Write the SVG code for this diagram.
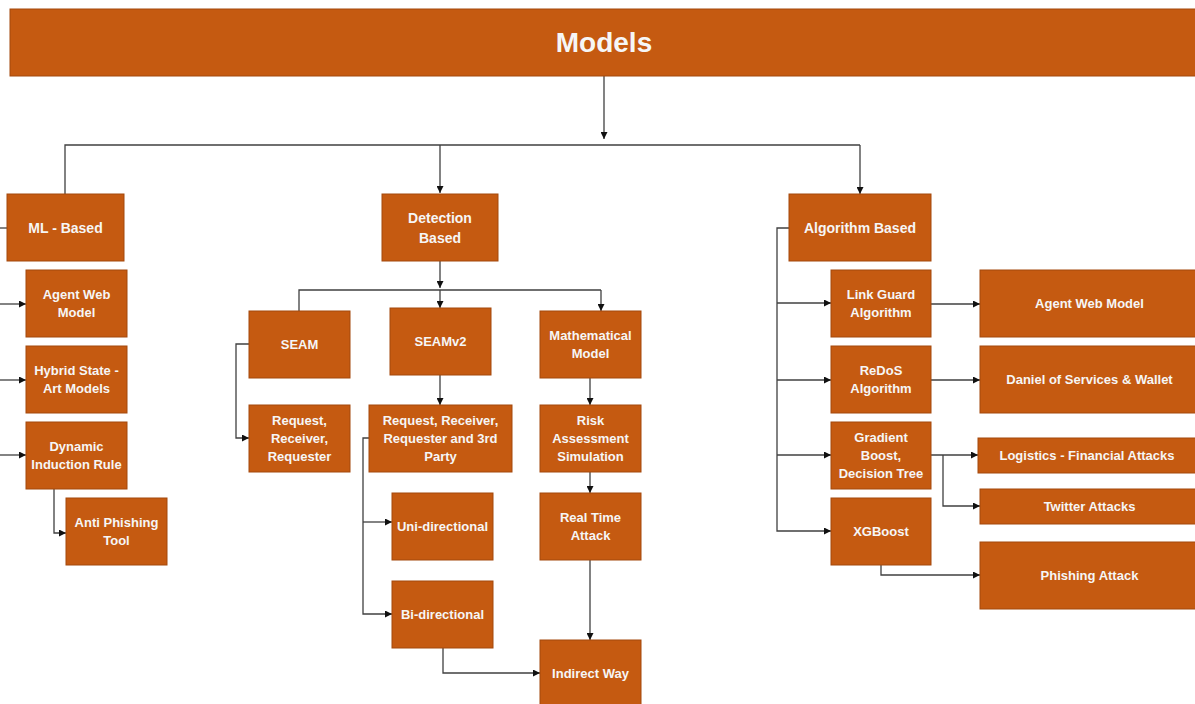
<svg xmlns="http://www.w3.org/2000/svg" width="1195" height="704" viewBox="0 0 1195 704">
<style>
.b{fill:#C55A11;stroke:#A3480C;stroke-width:1}
.t{fill:#F6F6F6;font-family:"Liberation Sans",Arial,sans-serif;font-weight:bold;font-size:13px;text-anchor:middle}
.h{font-size:14px}
.c{fill:none;stroke:#404040;stroke-width:1.3}
</style>
<defs>
<marker id="a" viewBox="0 0 10 10" refX="10" refY="5" markerWidth="7" markerHeight="7" markerUnits="userSpaceOnUse" orient="auto"><path d="M0,0 L10,5 L0,10 z" fill="#111"/></marker>
</defs>
<rect x="0" y="0" width="1195" height="704" fill="#fff"/>
<g id="connectors">
<path class="c" d="M604,76 V139" marker-end="url(#a)"/>
<path class="c" d="M65,194 V145 H860"/>
<path class="c" d="M440,145 V193" marker-end="url(#a)"/>
<path class="c" d="M860,145 V194" marker-end="url(#a)"/>
<path class="c" d="M0,228 H7"/>
<path class="c" d="M0,304 H26" marker-end="url(#a)"/>
<path class="c" d="M0,380 H26" marker-end="url(#a)"/>
<path class="c" d="M0,455 H26" marker-end="url(#a)"/>
<path class="c" d="M54,489 V533 H66" marker-end="url(#a)"/>
<path class="c" d="M440,261 V288" marker-end="url(#a)"/>
<path class="c" d="M299,311 V290 H601"/>
<path class="c" d="M440,290 V308" marker-end="url(#a)"/>
<path class="c" d="M601,290 V311" marker-end="url(#a)"/>
<path class="c" d="M249,344 H236 V438 H249" marker-end="url(#a)"/>
<path class="c" d="M440,375 V405" marker-end="url(#a)"/>
<path class="c" d="M369,438 H363 V614 H392" marker-end="url(#a)"/>
<path class="c" d="M363,522 H392" marker-end="url(#a)"/>
<path class="c" d="M443,647 V673 H540" marker-end="url(#a)"/>
<path class="c" d="M590,378 V405" marker-end="url(#a)"/>
<path class="c" d="M590,472 V493" marker-end="url(#a)"/>
<path class="c" d="M590,560 V640" marker-end="url(#a)"/>
<path class="c" d="M789,228 H777 V531 H831" marker-end="url(#a)"/>
<path class="c" d="M777,303 H831" marker-end="url(#a)"/>
<path class="c" d="M777,380 H831" marker-end="url(#a)"/>
<path class="c" d="M777,455 H831" marker-end="url(#a)"/>
<path class="c" d="M931,304 H980" marker-end="url(#a)"/>
<path class="c" d="M931,380 H980" marker-end="url(#a)"/>
<path class="c" d="M931,455 H978" marker-end="url(#a)"/>
<path class="c" d="M943,455 V506 H980" marker-end="url(#a)"/>
<path class="c" d="M881,565 V575 H980" marker-end="url(#a)"/>
</g>
<g id="models"><rect class="b" x="10" y="9" width="1195" height="67" style="stroke:#A3480C"/><text class="t" x="604" y="52" style="font-size:28px">Models</text></g>
<g id="ml"><rect class="b" x="7" y="194" width="117" height="67"/><text class="t h" x="65.5" y="232.5">ML - Based</text></g>
<g id="detection"><rect class="b" x="382" y="194" width="116" height="67"/><text class="t h" x="440" y="222.5">Detection</text><text class="t h" x="440" y="242.5">Based</text></g>
<g id="algorithm"><rect class="b" x="789" y="194" width="142" height="67"/><text class="t h" x="860" y="232.5">Algorithm Based</text></g>
<g id="agentweb1"><rect class="b" x="26" y="270" width="101" height="67"/><text class="t" x="76.5" y="299">Agent Web</text><text class="t" x="76.5" y="317">Model</text></g>
<g id="hybrid"><rect class="b" x="26" y="346" width="101" height="67"/><text class="t" x="76.5" y="375">Hybrid State -</text><text class="t" x="76.5" y="393">Art Models</text></g>
<g id="dynamic"><rect class="b" x="26" y="422" width="101" height="67"/><text class="t" x="76.5" y="451">Dynamic</text><text class="t" x="76.5" y="469">Induction Rule</text></g>
<g id="antiphishing"><rect class="b" x="66" y="498" width="101" height="67"/><text class="t" x="116.5" y="527">Anti Phishing</text><text class="t" x="116.5" y="545">Tool</text></g>
<g id="seam"><rect class="b" x="249" y="311" width="101" height="67"/><text class="t" x="299.5" y="349">SEAM</text></g>
<g id="seamv2"><rect class="b" x="390" y="308" width="101" height="67"/><text class="t" x="440.5" y="346">SEAMv2</text></g>
<g id="math"><rect class="b" x="540" y="311" width="101" height="67"/><text class="t" x="590.5" y="340">Mathematical</text><text class="t" x="590.5" y="358">Model</text></g>
<g id="rrr"><rect class="b" x="249" y="405" width="101" height="67"/><text class="t" x="299.5" y="425">Request,</text><text class="t" x="299.5" y="443">Receiver,</text><text class="t" x="299.5" y="461">Requester</text></g>
<g id="rrr3"><rect class="b" x="369" y="405" width="143" height="67"/><text class="t" x="440.5" y="425">Request, Receiver,</text><text class="t" x="440.5" y="443">Requester and 3rd</text><text class="t" x="440.5" y="461">Party</text></g>
<g id="risk"><rect class="b" x="540" y="405" width="101" height="67"/><text class="t" x="590.5" y="425">Risk</text><text class="t" x="590.5" y="443">Assessment</text><text class="t" x="590.5" y="461">Simulation</text></g>
<g id="uni"><rect class="b" x="392" y="493" width="101" height="67"/><text class="t" x="442.5" y="531">Uni-directional</text></g>
<g id="bi"><rect class="b" x="392" y="581" width="101" height="67"/><text class="t" x="442.5" y="619">Bi-directional</text></g>
<g id="realtime"><rect class="b" x="540" y="493" width="101" height="67"/><text class="t" x="590.5" y="522">Real Time</text><text class="t" x="590.5" y="540">Attack</text></g>
<g id="indirect"><rect class="b" x="540" y="640" width="101" height="67"/><text class="t" x="590.5" y="678">Indirect Way</text></g>
<g id="linkguard"><rect class="b" x="831" y="270" width="100" height="67"/><text class="t" x="881" y="299">Link Guard</text><text class="t" x="881" y="317">Algorithm</text></g>
<g id="redos"><rect class="b" x="831" y="346" width="100" height="67"/><text class="t" x="881" y="375">ReDoS</text><text class="t" x="881" y="393">Algorithm</text></g>
<g id="gradient"><rect class="b" x="831" y="422" width="100" height="67"/><text class="t" x="881" y="442">Gradient</text><text class="t" x="881" y="460">Boost,</text><text class="t" x="881" y="478">Decision Tree</text></g>
<g id="xgboost"><rect class="b" x="831" y="498" width="100" height="67"/><text class="t" x="881" y="536">XGBoost</text></g>
<g id="agentweb2"><rect class="b" x="980" y="270" width="225" height="67"/><text class="t" x="1089.5" y="308">Agent Web Model</text></g>
<g id="daniel"><rect class="b" x="980" y="346" width="225" height="67"/><text class="t" x="1089.5" y="384">Daniel of Services &amp; Wallet</text></g>
<g id="logistics"><rect class="b" x="978" y="438" width="227" height="35"/><text class="t" x="1087" y="460">Logistics - Financial Attacks</text></g>
<g id="twitter"><rect class="b" x="980" y="489" width="225" height="35"/><text class="t" x="1089.5" y="511">Twitter Attacks</text></g>
<g id="phishing"><rect class="b" x="980" y="542" width="225" height="67"/><text class="t" x="1089.5" y="580">Phishing Attack</text></g>
</svg>
